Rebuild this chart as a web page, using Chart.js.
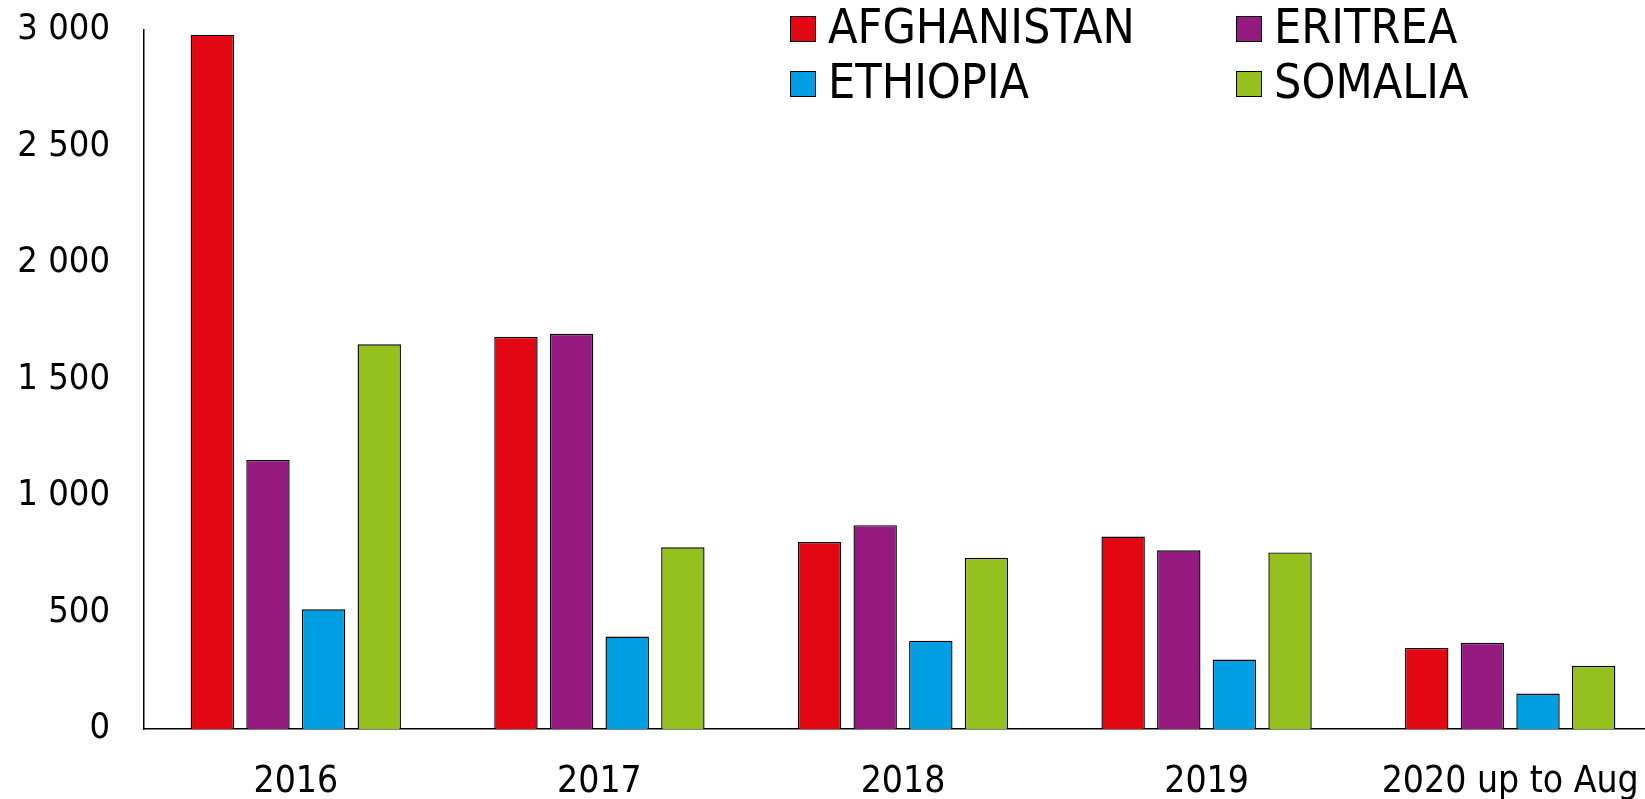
<!DOCTYPE html>
<html>
<head>
<meta charset="utf-8">
<script src="https://cdn.jsdelivr.net/npm/chart.js@4.4.1/dist/chart.umd.min.js"></script>
<style>
  html, body { margin: 0; padding: 0; background: #fff; overflow: hidden; }
  #wrap { position: relative; width: 1662px; height: 799px; }
</style>
</head>
<body>
<div id="wrap"><canvas id="myChart"></canvas></div>
<script>
var years = ["2016", "2017", "2018", "2019", "2020 up to Aug"];
var afghanistan = [2980, 1683, 803, 826, 348];
var eritrea = [1155, 1696, 875, 767, 370];
var ethiopia = [514, 397, 379, 298, 152];
var somalia = [1651, 780, 735, 758, 271];
var yTicks = [0, 500, 1000, 1500, 2000, 2500, 3000];

var FONT = "'DejaVu Sans Condensed', 'DejaVu Sans', sans-serif";

function spaced(v) {
    return String(v).replace(/\B(?=(\d{3})+(?!\d))/g, ' ');
}

// legend in two columns drawn over the plot (top right)
var gridLegend = {
    id: 'gridLegend',
    afterDraw: function (chart) {
        var c = chart.ctx;
        var cols = [790, 1236];
        var rows = [29, 84];
        c.save();
        c.font = '48px ' + FONT;
        c.textBaseline = 'middle';
        c.textAlign = 'left';
        chart.data.datasets.forEach(function (ds, i) {
            var x = cols[i % 2], y = rows[Math.floor(i / 2)];
            c.fillStyle = ds.backgroundColor;
            c.fillRect(x, y - 13, 26, 26);
            c.strokeStyle = '#000';
            c.lineWidth = 1;
            c.strokeRect(x + 0.5, y - 12.5, 25, 25);
            c.fillStyle = '#000';
            c.fillText(ds.label, x + 38, y + 2);
        });
        c.restore();
    }
};

var ctx = document.getElementById("myChart");
var myChart = new Chart(ctx, {
    type: 'bar',
    data: {
        labels: years,
        datasets: [
            { label: 'AFGHANISTAN', data: afghanistan, backgroundColor: '#E30613' },
            { label: 'ERITREA', data: eritrea, backgroundColor: '#951B81' },
            { label: 'ETHIOPIA', data: ethiopia, backgroundColor: '#009FE3' },
            { label: 'SOMALIA', data: somalia, backgroundColor: '#95C11F' }
        ]
    },
    options: {
        responsive: true,
        maintainAspectRatio: false,
        animation: false,
        layout: { padding: { top: 30, right: 0, bottom: 0, left: 0 } },
        datasets: {
            bar: {
                borderColor: '#000',
                borderWidth: 1.4,
                categoryPercentage: 0.733,
                barPercentage: 0.78
            }
        },
        plugins: {
            legend: { display: false },
            tooltip: { enabled: false }
        },
        scales: {
            x: {
                grid: { display: false, drawTicks: false },
                border: { display: true, color: '#000', width: 1.5 },
                ticks: { color: '#000', font: { family: FONT, size: 37 }, padding: 31, maxRotation: 0 },
                afterFit: function (s) {
                    s.height = 70;
                    s.paddingLeft = 0;
                    s.paddingRight = 0;
                }
            },
            y: {
                min: 0,
                max: 3000,
                grid: { display: false, drawTicks: false },
                border: { display: true, color: '#000', width: 1.5 },
                afterBuildTicks: function (s) {
                    s.ticks = yTicks.map(function (v) { return { value: v }; });
                },
                ticks: {
                    color: '#000',
                    font: { family: FONT, size: 36 },
                    padding: 34,
                    callback: function (v) { return spaced(v); }
                },
                afterFit: function (s) {
                    s.width = 144;
                    s.paddingTop = 0;
                    s.paddingBottom = 0;
                }
            }
        }
    },
    plugins: [gridLegend]
});
</script>
</body>
</html>
